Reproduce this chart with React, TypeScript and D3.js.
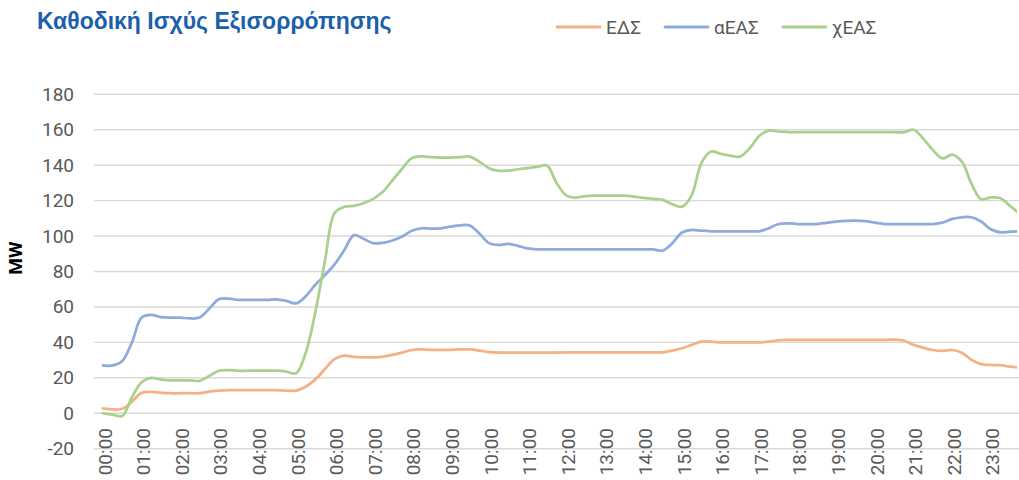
import { useEffect, useRef } from 'react';
import * as d3 from 'd3';

// 15-minute slots, one label per hour
const TIMES: string[] = [];
for (let h = 0; h < 24; h++) {
  for (const m of ['00', '15', '30', '45']) TIMES.push(`${String(h).padStart(2, '0')}:${m}`);
}
const HOUR_LABELS = TIMES.filter((t) => t.endsWith(':00'));

const EDS = [
  2.8, 2.2, 2.5, 6.5, 11.5, 12, 11.6, 11.3, 11.3, 11.3, 11.3, 12.2, 12.8, 13.1, 13.1, 13.1,
  13.1, 13.1, 13.1, 12.8, 12.8, 15, 19, 25, 30.5, 32.5, 31.8, 31.5, 31.6, 32, 33, 34.2,
  35.7, 36, 35.8, 35.8, 35.8, 36, 36, 35.4, 34.5, 34.2, 34.2, 34.2, 34.2, 34.2, 34.2, 34.2,
  34.3, 34.4, 34.4, 34.4, 34.4, 34.4, 34.4, 34.4, 34.4, 34.4, 34.4, 35.4, 36.7, 38.6, 40.4, 40.4,
  40, 40, 40, 40, 40, 40.4, 41.2, 41.4, 41.4, 41.4, 41.4, 41.4, 41.4, 41.4, 41.4, 41.4,
  41.4, 41.4, 41.6, 41, 38.6, 37, 35.7, 35.2, 35.7, 34.2, 30.1, 27.7, 27.3, 27.1, 26.3, 25.8,
];

const AEAS = [
  27, 27, 29.5, 40, 54, 55.5, 54.3, 54, 54, 53.5, 54, 59, 64.3, 64.7, 64, 64,
  64, 64, 64.3, 63.4, 62, 66, 72.5, 78, 84, 92, 100.5, 98.5, 96, 96.2, 97.5, 99.7,
  103, 104.4, 104.2, 104.4, 105.3, 106, 106, 101.5, 96, 95, 95.6, 94.5, 93, 92.5, 92.5, 92.5,
  92.5, 92.5, 92.5, 92.5, 92.5, 92.5, 92.5, 92.5, 92.5, 92.5, 91.8, 96, 102, 103.5, 103, 102.7,
  102.7, 102.7, 102.7, 102.7, 102.7, 104.4, 106.8, 107.2, 106.8, 106.8, 106.8, 107.5, 108.2, 108.6, 108.7, 108.4,
  107.6, 106.8, 106.8, 106.8, 106.8, 106.8, 106.8, 107.6, 109.7, 110.6, 110.6, 108.2, 103.8, 102.1, 102.5, 102.7,
];

const XEAS = [
  0, -0.8, -1.5, 9, 17.5, 20, 19, 18.6, 18.6, 18.6, 18.3, 21, 24, 24.4, 24, 24,
  24, 24, 24, 23.5, 22.5, 34, 57, 86, 113, 116.5, 117, 118.5, 121, 125, 131.5, 138,
  144, 145, 144.5, 144.3, 144.3, 144.5, 144.8, 142, 138.3, 136.8, 137, 137.7, 138.3, 139, 139.8, 130,
  123, 121.7, 122.6, 122.8, 122.8, 122.8, 122.8, 122.3, 121.5, 121, 120.4, 118, 116.6, 123, 141, 147.7,
  146.4, 145.4, 144.8, 149.5, 156.5, 159.5, 159, 158.6, 158.6, 158.6, 158.6, 158.6, 158.6, 158.6, 158.6, 158.6,
  158.6, 158.6, 158.6, 158.6, 160, 155, 148.5, 143.8, 146, 142, 129.5, 120.8, 121.8, 121.3, 117, 112.5,
];

const Y_TICKS = [-20, 0, 20, 40, 60, 80, 100, 120, 140, 160, 180];

const SERIES = [
  { key: 'eds', label: 'ΕΔΣ', color: '#F4B183', values: EDS },
  { key: 'aeas', label: 'αΕΑΣ', color: '#8FAADC', values: AEAS },
  { key: 'xeas', label: 'χΕΑΣ', color: '#A9D18E', values: XEAS },
];

const WIDTH = 1019;
const HEIGHT = 480;
const FONT = 'Roboto, "Liberation Sans", Arial, sans-serif';

export default function App() {
  const svgRef = useRef<SVGSVGElement>(null);

  useEffect(() => {
    document.body.style.margin = '0';
    if (!svgRef.current) return;

    const svg = d3.select(svgRef.current);
    svg.selectAll('*').remove();

    const plot = { left: 94, right: 1017, top: 94.3, bottom: 448.7 };

    const xScale = d3
      .scalePoint<string>()
      .domain(TIMES)
      .range([103, 103 + 9.65 * (TIMES.length - 1)]);

    const yScale = d3.scaleLinear().domain([-20, 180]).range([plot.bottom, plot.top]);

    // gridlines
    svg
      .append('g')
      .selectAll('line')
      .data(Y_TICKS)
      .enter()
      .append('line')
      .attr('x1', plot.left)
      .attr('x2', WIDTH)
      .attr('y1', (d) => yScale(d))
      .attr('y2', (d) => yScale(d))
      .attr('stroke', '#d9d9d9')
      .attr('stroke-width', 1.4);

    // y tick labels
    svg
      .append('g')
      .selectAll('text')
      .data(Y_TICKS)
      .enter()
      .append('text')
      .attr('x', 74)
      .attr('y', (d) => yScale(d))
      .attr('text-anchor', 'end')
      .attr('dominant-baseline', 'central')
      .style('font-family', FONT)
      .style('font-size', '19px')
      .attr('fill', '#595959')
      .text((d) => d);

    // x tick labels
    svg
      .append('g')
      .selectAll('text')
      .data(HOUR_LABELS)
      .enter()
      .append('text')
      .attr('transform', (d) => `translate(${(xScale(d) ?? 0) + 2},428) rotate(-90)`)
      .attr('text-anchor', 'end')
      .attr('dominant-baseline', 'central')
      .style('font-family', FONT)
      .style('font-size', '19px')
      .attr('fill', '#595959')
      .text((d) => d);

    // axis title
    svg
      .append('text')
      .attr('transform', 'translate(15,258) rotate(-90)')
      .attr('text-anchor', 'middle')
      .attr('dominant-baseline', 'central')
      .style('font-family', FONT)
      .style('font-size', '19px')
      .style('font-weight', 'bold')
      .attr('fill', '#000')
      .text('MW');

    svg
      .append('defs')
      .append('clipPath')
      .attr('id', 'plot-clip')
      .append('rect')
      .attr('x', plot.left)
      .attr('y', 0)
      .attr('width', plot.right - plot.left)
      .attr('height', HEIGHT);

    const line = d3
      .line<number>()
      .x((_, i) => xScale(TIMES[i]) ?? 0)
      .y((d) => yScale(d))
      .curve(d3.curveCatmullRom.alpha(0.5));

    const lines = svg.append('g').attr('clip-path', 'url(#plot-clip)');
    SERIES.forEach((s) => {
      lines
        .append('path')
        .attr('d', line(s.values))
        .attr('fill', 'none')
        .attr('stroke', s.color)
        .attr('stroke-width', 2.75)
        .attr('stroke-linecap', 'round')
        .attr('stroke-linejoin', 'round');
    });

    // title
    svg
      .append('text')
      .attr('x', 37)
      .attr('y', 29)
      .style('font-family', '"Liberation Sans", Arial, sans-serif')
      .style('font-size', '23px')
      .style('font-weight', 'bold')
      .attr('fill', '#1C5FAA')
      .text('Καθοδική Ισχύς Εξισορρόπησης');

    // legend
    const legend = svg.append('g');
    let cursor = 557;
    SERIES.forEach((s) => {
      legend
        .append('line')
        .attr('x1', cursor)
        .attr('x2', cursor + 43)
        .attr('y1', 27)
        .attr('y2', 27)
        .attr('stroke', s.color)
        .attr('stroke-width', 3)
        .attr('stroke-linecap', 'round');
      const label = legend
        .append('text')
        .attr('x', cursor + 49)
        .attr('y', 27)
        .attr('dominant-baseline', 'central')
        .style('font-family', FONT)
        .style('font-size', '19px')
        .attr('fill', '#595959')
        .text(s.label);
      const w = (label.node() as SVGTextElement).getComputedTextLength();
      cursor += 49 + w + 24;
    });
  }, []);

  return <svg ref={svgRef} width={WIDTH} height={HEIGHT} style={{ display: 'block', background: '#fff' }} />;
}
